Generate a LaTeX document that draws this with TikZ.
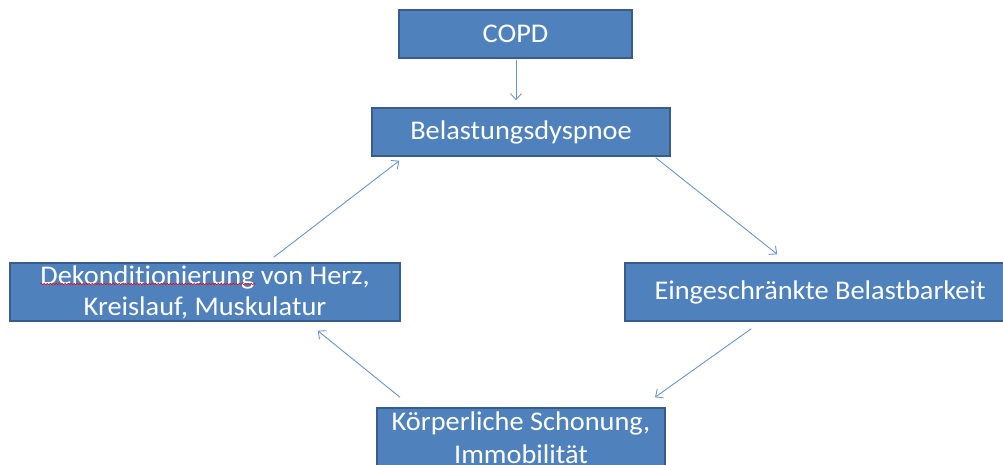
\documentclass[tikz,border=0pt]{standalone}
\usepackage{fontspec}
\setmainfont{Carlito}[Ligatures=NoCommon, FakeStretch=1.05]
\usetikzlibrary{arrows.meta,calc,decorations.pathmorphing}
\definecolor{boxfill}{HTML}{4F81BD}
\definecolor{boxline}{HTML}{385D8A}
\definecolor{arrcol}{HTML}{6A95CC}
\tikzset{
  box/.style={draw=boxline, line width=1.5pt, fill=boxfill, text=white, inner sep=0pt,
    font=\fontsize{27}{33}\selectfont, align=center},
  arr/.style={draw=arrcol, line width=0.9pt, -{Straight Barb[length=6pt,width=11pt,line width=0.9pt]}},
}
\begin{document}
\begin{tikzpicture}[x=1pt,y=-1pt]
\useasboundingbox (0,0) rectangle (1003,465);
\clip (0,0) rectangle (1003,465);
\node[box, minimum width=233pt, minimum height=48pt] (copd) at (515.5,34) {\raisebox{-1.5pt}{COPD}};
\node[box, minimum width=298pt, minimum height=48pt] (bel) at (521,132) {Belastungsdyspnoe};
\node[box, minimum width=390pt, minimum height=58pt] (dek) at (205,292) {\raisebox{-2pt}{Dekonditionierung von Herz,}\\Kreislauf, Muskulatur};
\node[box, minimum width=390pt, minimum height=58pt] (ein) at (820,292) {Eingeschränkte Belastbarkeit};
\node[box, minimum width=288pt, minimum height=60pt] (koe) at (521,438) {\raisebox{-4pt}{Körperliche Schonung,}\\\raisebox{-4pt}{Immobilität}};
% red spell-check underline
\coordinate (sp1) at ($(dek.west)+(31,-8)$);
\coordinate (sp2) at ($(dek.west)+(247,-8)$);
\draw[red, line width=0.5pt, decorate, decoration={snake, amplitude=0.8pt, segment length=3pt}] (sp1) -- (sp2);
% connector end points
\coordinate (c1) at ($(copd.south)+(0.5,1)$);
\coordinate (c2) at ($(bel.north)+(-5,-7)$);
\coordinate (b1) at ($(bel.south east)+(-15,1)$);
\coordinate (e1) at ($(ein.north west)+(153,-8)$);
\coordinate (e2) at ($(ein.south west)+(127,7)$);
\coordinate (k1) at ($(koe.north)+(134,-10)$);
\coordinate (k2) at ($(koe.north)+(-121,-10)$);
\coordinate (d1) at ($(dek.south east)+(-83,9)$);
\coordinate (d2) at ($(dek.north east)+(-127,-5)$);
\coordinate (b2) at ($(bel.south west)+(28,4)$);
\draw[arr] (c1) -- (c2);
\draw[arr] (b1) -- (e1);
\draw[arr] (e2) -- (k1);
\draw[arr] (k2) -- (d1);
\draw[arr] (d2) -- (b2);
\end{tikzpicture}
\end{document}
